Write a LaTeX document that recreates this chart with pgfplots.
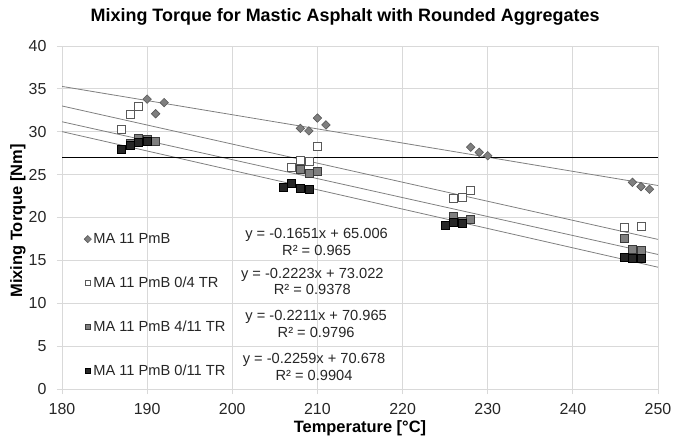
\documentclass[border=0pt]{standalone}
\usepackage{pgfplots}
\pgfplotsset{compat=1.18}
\usepackage{fontspec}
\setmainfont{Liberation Sans}
\definecolor{gridc}{HTML}{D9D9D9}
\definecolor{txt}{HTML}{262626}
\definecolor{midgray}{HTML}{7F7F7F}
\definecolor{edgegray}{HTML}{595959}
\definecolor{darkedge}{HTML}{3A3A3A}
\definecolor{blk}{HTML}{262626}
\definecolor{trend}{HTML}{808080}
\begin{document}
\begin{tikzpicture}
\path[use as bounding box] (-62bp,-52bp) rectangle (612bp,389bp);
\begin{axis}[
  at={(0,0)}, anchor=south west,
  scale only axis, width=596bp, height=343bp,
  xmin=180, xmax=250, ymin=0, ymax=40,
  xtick={180,190,...,250}, ytick={0,5,...,40},
  grid=major, grid style={gridc, line width=0.8bp},
  axis line style={gridc, line width=0.8bp},
  tick align=outside, major tick length=5bp,
  tick style={gridc, line width=0.8bp},
  tick pos=left,
  ticklabel style={font=\fontsize{16}{19}\selectfont, text=txt},
  yticklabel style={xshift=-7bp},
  xticklabel style={yshift=-6bp},
  /pgf/number format/assume math mode=true,
  title={Mixing Torque for Mastic Asphalt with Rounded Aggregates},
  title style={at={(axis description cs:0.475,1.066)}, anchor=center, font=\bfseries\fontsize{18}{21}\selectfont, text=black},
  xlabel={Temperature [°C]},
  xlabel style={at={(axis description cs:0.5,-0.1137)}, anchor=center, font=\bfseries\fontsize{16.5}{19}\selectfont, text=black},
  ylabel={Mixing Torque [Nm]},
  ylabel style={at={(axis description cs:-0.074,0.49)}, anchor=center, font=\bfseries\fontsize{16.5}{19}\selectfont, text=black},
  legend style={at={(axis description cs:0.032,0.466)}, anchor=north west, draw=none, fill=none,
    font=\fontsize{14.7}{17}\selectfont, text=txt, row sep=28bp,
    /tikz/every even column/.append style={column sep=5bp}},
  legend cell align=left,
  legend image code/.code={\draw[#1, mark size=2.5bp] plot coordinates {(0bp,0bp)};},
]
% trendlines
\addplot[trend, line width=0.8bp, forget plot] coordinates {(180,35.288) (250,23.731)};
\addplot[trend, line width=0.8bp, forget plot] coordinates {(180,33.008) (250,17.447)};
\addplot[trend, line width=0.8bp, forget plot] coordinates {(180,31.167) (250,15.690)};
\addplot[trend, line width=0.8bp, forget plot] coordinates {(180,30.016) (250,14.203)};
% MA 11 PmB
\addplot[only marks, mark=square*, mark size=3bp, mark options={rotate=45, fill=midgray, draw=edgegray, line width=0.6bp}] coordinates {
(190,33.8) (191,32.1) (192,33.4)
(208,30.4) (209,30.1) (210,31.6) (211,30.8)
(228,28.2) (229,27.6) (230,27.2)
(247,24.1) (248,23.6) (249,23.3)};
% MA 11 PmB 0/4 TR
\addplot[only marks, mark=square*, mark size=4bp, mark options={fill=white, draw=edgegray, line width=0.8bp}] coordinates {
(187,30.3) (188,32.0) (189,33.0)
(207,25.9) (208,26.7) (209,26.5) (210,28.3)
(226,22.25) (227,22.4) (228,23.2)
(246,18.8) (248,19.0)};
% MA 11 PmB 4/11 TR
\addplot[only marks, mark=square*, mark size=4bp, mark options={fill=midgray, draw=darkedge, line width=0.8bp}] coordinates {
(188,28.6) (189,29.25) (190,29.05) (191,28.9)
(208,25.6) (209,25.2) (210,25.4)
(226,20.1) (227,19.6) (228,19.8)
(246,17.6) (247,16.3) (248,16.2)};
% MA 11 PmB 0/11 TR
\addplot[only marks, mark=square*, mark size=4bp, mark options={fill=blk, draw=black, line width=0.8bp}] coordinates {
(187,28.0) (188,28.4) (189,28.7) (190,28.9)
(206,23.5) (207,24.0) (208,23.4) (209,23.3)
(225,19.1) (226,19.4) (227,19.3)
(246,15.4) (247,15.2) (248,15.2)};
% limit line
\addplot[black, line width=1.5bp, forget plot] coordinates {(180,27) (250,27)};
\legend{MA 11 PmB, MA 11 PmB 0/4 TR, MA 11 PmB 4/11 TR, MA 11 PmB 0/11 TR}
\node[align=center, font=\fontsize{14.7}{17}\selectfont, text=txt] at (axis cs:209.9,17.15) {y = -0.1651x + 65.006\\R² = 0.965};
\node[align=center, font=\fontsize{14.7}{17}\selectfont, text=txt] at (axis cs:209.4,12.54) {y = -0.2223x + 73.022\\R² = 0.9378};
\node[align=center, font=\fontsize{14.7}{17}\selectfont, text=txt] at (axis cs:209.85,7.58) {y = -0.2211x + 70.965\\R² = 0.9796};
\node[align=center, font=\fontsize{14.7}{17}\selectfont, text=txt] at (axis cs:209.6,2.57) {y = -0.2259x + 70.678\\R² = 0.9904};
\end{axis}
\end{tikzpicture}
\end{document}
